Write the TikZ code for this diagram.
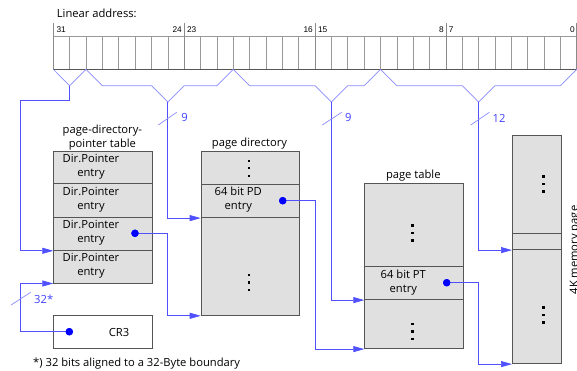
\documentclass[tikz,border=0pt]{standalone}
\usepackage{fontspec}
\setmainfont{Open Sans}
\newfontfamily\bitfont{Liberation Sans}
\usetikzlibrary{arrows.meta}

\definecolor{boxfill}{HTML}{E0E0E0}
\definecolor{boxline}{HTML}{555555}
\definecolor{cellline}{HTML}{999999}
\definecolor{bracecol}{HTML}{8A8AFF}
\definecolor{linkcol}{HTML}{5050FF}
\definecolor{labcol}{HTML}{4040FF}

\begin{document}
\begin{tikzpicture}[x=1pt,y=-1pt,
  txt/.style={font=\fontsize{11.2}{14}\selectfont, inner sep=0pt, align=center},
  bittxt/.style={font=\bitfont\fontsize{8.3}{9}\selectfont, inner sep=0pt},
  row/.style={draw=boxline, fill=boxfill, line width=0.8pt, anchor=north west,
    inner sep=0pt, minimum width=#1},
  emptybox/.style={draw=boxline, fill=white, line width=0.8pt, anchor=north west,
    inner sep=0pt, minimum width=#1},
  bitcell/.style={draw=cellline, line width=0.6pt},
  brace/.style={draw=bracecol, line width=0.7pt},
  link/.style={draw=linkcol, line width=0.7pt, -{Triangle[length=11pt,width=6pt]}},
  dot/.style={circle, fill=blue, inner sep=0pt, minimum size=7.4pt},
  widthlab/.style={font=\fontsize{11.2}{12}\selectfont, text=labcol, inner sep=0pt},
  vdots/.pic={
    \foreach \k in {-1,0,1}
      \fill (-1.2,{\k*7.5-1.2}) rectangle ++(2.4,2.4);
  }
]
\useasboundingbox (0,0) rectangle (577,371);

\def\xo{53.3}
\def\cw{16.36}

% ---- linear address bit field ----
\node[txt, anchor=west] (linaddr) at (56.7,13.3) {Linear address:};
\foreach \i in {0,...,31}
  \draw[bitcell] ({\xo+\i*\cw},36) rectangle ({\xo+(\i+1)*\cw},69.3);
\foreach \i in {0,8,16,24,32}
  \draw[draw=cellline!90!black, line width=0.7pt] ({\xo+\i*\cw},23) -- ({\xo+\i*\cw},69.3);
\draw[draw=boxline, line width=0.8pt] (\xo,69.3) -- ({\xo+32*\cw},69.3);

\node[bittxt, anchor=west] (b31) at (56.3,29.5) {31};
\node[bittxt, anchor=east] (b24) at (182,29.5) {24};
\node[bittxt, anchor=west] (b23) at (186.8,29.5) {23};
\node[bittxt, anchor=east] (b16) at (313,29.5) {16};
\node[bittxt, anchor=west] (b15) at (317.8,29.5) {15};
\node[bittxt, anchor=east] (b8) at (444,29.5) {8};
\node[bittxt, anchor=west] (b7) at (448.7,29.5) {7};
\node[bittxt, anchor=east] (b0) at (575,29.5) {0};

% ---- field braces ----
\draw[brace] (\xo,69.3) -- ({\xo+\cw},85.7) coordinate (tipA) -- ({\xo+2*\cw},69.3);
\draw[brace] ({\xo+2*\cw},69.3) -- ({\xo+3*\cw},85.7) -- ({\xo+6*\cw},85.7)
  -- ({\xo+7*\cw},102) coordinate (tipB) -- ({\xo+8*\cw},85.7)
  -- ({\xo+10*\cw},85.7) -- ({\xo+11*\cw},69.3);
\draw[brace] ({\xo+11*\cw},69.3) -- ({\xo+12*\cw},85.7) -- ({\xo+16*\cw},85.7)
  -- ({\xo+17*\cw},102) coordinate (tipC) -- ({\xo+18*\cw},85.7)
  -- ({\xo+19*\cw},85.7) -- ({\xo+20*\cw},69.3);
\draw[brace] ({\xo+20*\cw},69.3) -- ({\xo+21*\cw},85.7) -- ({\xo+25*\cw},85.7)
  -- ({\xo+26*\cw},102) coordinate (tipD) -- ({\xo+27*\cw},85.7)
  -- ({\xo+31*\cw},85.7) -- ({\xo+32*\cw},69.3);

% ---- page-directory-pointer table ----
\node[txt] (dptlab) at (102.4,137.5) {page-directory-\\pointer table};
\node[row=98.4pt, minimum height=32.6pt] (dpt1) at (53.3,150.7) {};
\node[row=98.4pt, minimum height=33.4pt] (dpt2) at (53.3,183.3) {};
\node[row=98.4pt, minimum height=33.3pt] (dpt3) at (53.3,216.7) {};
\node[row=98.4pt, minimum height=32.7pt] (dpt4) at (53.3,250) {};
\node[txt] (dpt1t) at (91,167) {Dir.Pointer\\entry};
\node[txt] (dpt2t) at (91,200) {Dir.Pointer\\entry};
\node[txt] (dpt3t) at (91,233) {Dir.Pointer\\entry};
\node[txt] (dpt4t) at (91,266) {Dir.Pointer\\entry};
\node[dot] (dptdot) at (135,233.3) {};

% ---- CR3 ----
\node[emptybox=98.4pt, minimum height=32.7pt] (cr3) at (53.3,315) {};
\node[txt] (cr3t) at (119,332.3) {CR3};
\node[dot] (cr3dot) at (69.3,331.7) {};

% ---- page directory ----
\node[txt] (pdlab) at (249.5,143.3) {page directory};
\node[row=98.3pt, minimum height=33pt] (pdtop) at (200.7,151) {};
\node[row=98.3pt, minimum height=33.3pt] (pdent) at (200.7,184) {};
\node[row=98.3pt, minimum height=97.7pt] (pdbot) at (200.7,217.3) {};
\pic[fill=black] at (249,168.3) {vdots};
\pic[fill=black] at (249,282.3) {vdots};
\node[txt] (pdentt) at (238.3,200) {64 bit PD\\entry};
\node[dot] (pddot) at (282.7,200.7) {};

% ---- page table ----
\node[txt] (ptlab) at (413.3,176) {page table};
\node[row=99pt, minimum height=82.7pt] (pttop) at (364.3,183.3) {};
\node[row=99pt, minimum height=33.3pt] (ptent) at (364.3,266) {};
\node[row=99pt, minimum height=49pt] (ptbot) at (364.3,299.3) {};
\pic[fill=black] at (412.3,232.8) {vdots};
\pic[fill=black] at (412.3,331.5) {vdots};
\node[txt] (ptentt) at (403.3,282.7) {64 bit PT\\entry};
\node[dot] (ptdot) at (446.7,282.7) {};

% ---- 4K memory page ----
\node[row=49pt, minimum height=97.7pt] (pgtop) at (512,135) {};
\node[row=49pt, minimum height=16.6pt] (pgmid) at (512,232.7) {};
\node[row=49pt, minimum height=114pt] (pgbot) at (512,249.3) {};
\pic[fill=black] at (543.5,184) {vdots};
\pic[fill=black] at (543.5,314.8) {vdots};
\node[txt, rotate=90, anchor=north] (pglab) at (569.5,250) {4K memory page};

% ---- connectors from the address fields ----
\draw[link] (tipA) -- ++(0,14.3) coordinate (turnA) -- (turnA -| 20.7,0) |- (dpt3.south west);
\draw[link] (tipB) |- (pdent.south west);
\draw[link] (tipC) |- (ptent.south west);
\draw[link] (tipD) |- (pgmid.south west);

% ---- connectors from the table entries ----
\draw[link] (cr3dot.center) -- (cr3dot.center -| 20.7,0) |- (dpt4.south west);
\draw[link] (dptdot.center) -- (dptdot.center -| tipB) |- (pdbot.south west);
\draw[link] (pddot.center) -- (315.7,200.7) |- (ptbot.south west);
\draw[link] (ptdot.center) -- (ptdot.center -| tipD) |- (pgbot.south west);
\node[dot] at (dptdot) {};
\node[dot] at (pddot) {};
\node[dot] at (ptdot) {};
\node[dot] at (cr3dot) {};

% ---- field width marks ----
\draw[brace] (158.3,125) -- (176.7,112.3);
\node[widthlab] (w1) at (184.5,117.5) {9};
\draw[brace] (322.3,125) -- (341.7,112.3);
\node[widthlab] (w2) at (348.3,118) {9};
\draw[brace] (470.7,125) -- (489.3,112.3);
\node[widthlab] (w3) at (499,118) {12};
\draw[brace] (11,305) -- (30.7,292.3);
\node[widthlab] (w4) at (43.7,299) {32*};

% ---- footnote ----
\node[txt, anchor=west] (foot) at (33,364) {*) 32 bits aligned to a 32-Byte boundary};
\end{tikzpicture}
\end{document}
